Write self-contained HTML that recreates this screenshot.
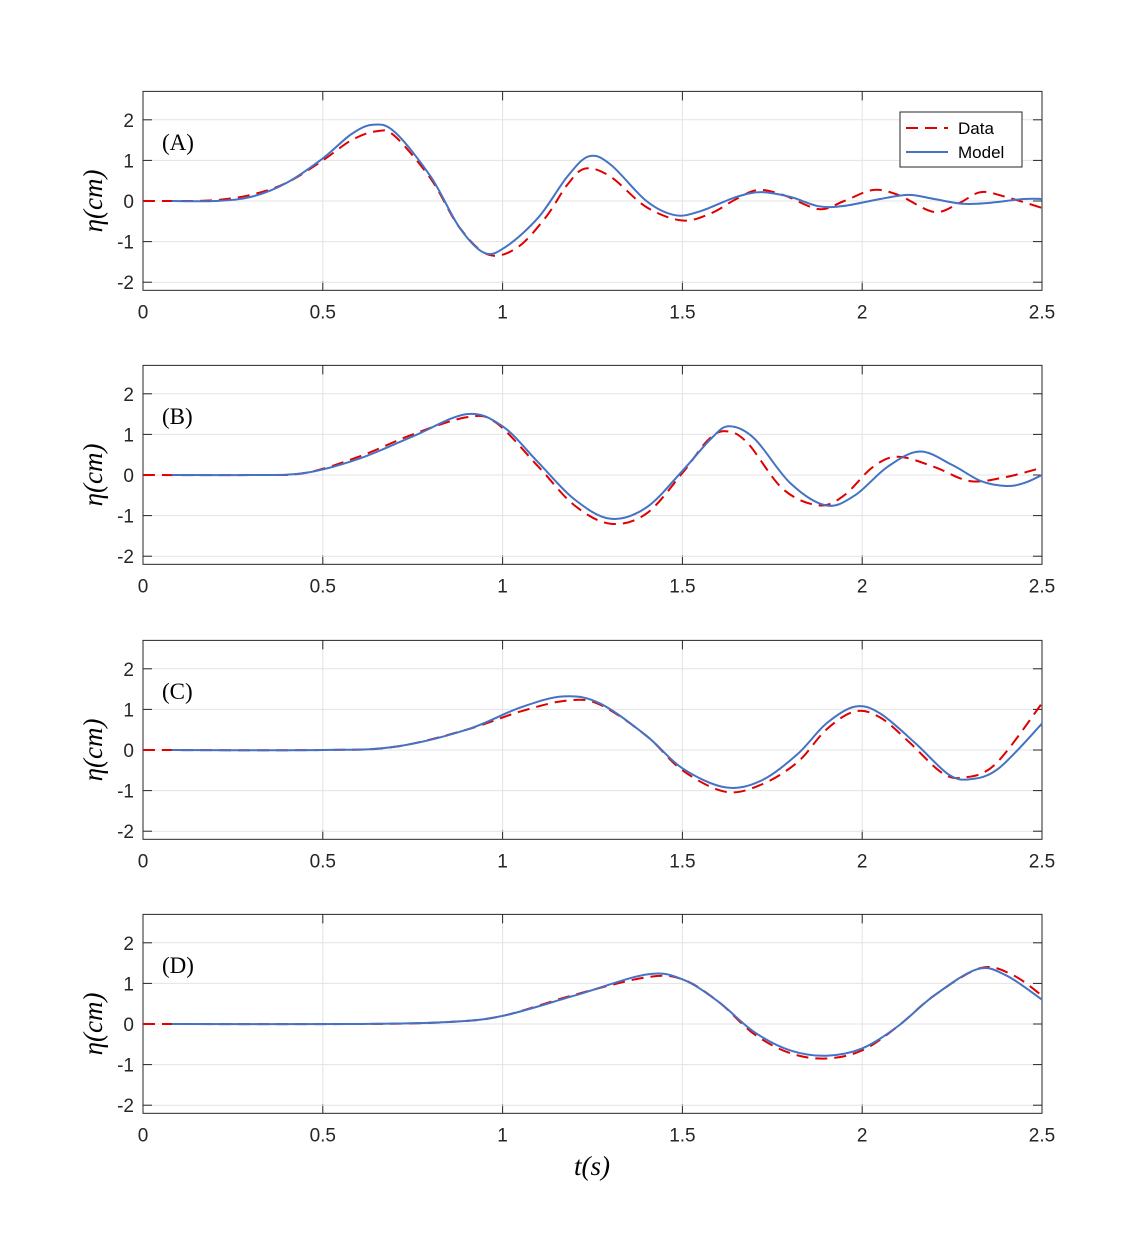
<!DOCTYPE html>
<html><head><meta charset="utf-8"><style>body{margin:0;background:#fff}svg{display:block}</style></head>
<body>
<svg id="s" width="1145" height="1250" xmlns="http://www.w3.org/2000/svg"></svg>
<script>
const S=document.getElementById('s');
const X0=143,X1=1042,PX=(X1-X0)/2.5,U=40.6;
const P=[
{lab:'(A)',z:201,
m:[[0.08,0],[0.2,0],[0.3,0.1],[0.4,0.45],[0.5,1.05],[0.58,1.65],[0.64,1.88],[0.7,1.7],[0.8,0.6],[0.88,-0.65],[0.95,-1.28],[1.01,-1.12],[1.1,-0.4],[1.18,0.6],[1.24,1.1],[1.3,0.9],[1.4,0],[1.48,-0.35],[1.55,-0.25],[1.65,0.1],[1.72,0.22],[1.8,0.1],[1.88,-0.13],[1.95,-0.12],[2.05,0.05],[2.13,0.15],[2.2,0.05],[2.28,-0.07],[2.35,-0.05],[2.45,0.05],[2.5,0.05]],
d:[[0,0],[0.1,0],[0.2,0.02],[0.3,0.15],[0.4,0.45],[0.5,1.0],[0.58,1.5],[0.65,1.72],[0.7,1.6],[0.8,0.55],[0.88,-0.65],[0.96,-1.32],[1.04,-1.15],[1.12,-0.4],[1.18,0.4],[1.23,0.8],[1.3,0.6],[1.4,-0.15],[1.5,-0.48],[1.58,-0.3],[1.65,0.05],[1.71,0.27],[1.78,0.15],[1.88,-0.2],[1.95,0],[2.03,0.27],[2.1,0.15],[2.2,-0.27],[2.27,-0.05],[2.33,0.22],[2.4,0.1],[2.5,-0.17]]},
{lab:'(B)',z:475,
m:[[0.08,0],[0.3,0],[0.45,0.05],[0.6,0.4],[0.75,0.95],[0.9,1.5],[1.0,1.2],[1.1,0.3],[1.2,-0.6],[1.3,-1.08],[1.4,-0.8],[1.5,0.1],[1.58,0.9],[1.63,1.2],[1.7,0.9],[1.8,-0.2],[1.9,-0.75],[1.98,-0.5],[2.07,0.2],[2.16,0.58],[2.25,0.25],[2.33,-0.15],[2.4,-0.27],[2.45,-0.2],[2.5,0]],
d:[[0,0],[0.3,0],[0.45,0.05],[0.6,0.45],[0.75,1.0],[0.9,1.42],[0.98,1.3],[1.1,0.2],[1.2,-0.75],[1.3,-1.2],[1.4,-0.95],[1.5,0.05],[1.57,0.85],[1.62,1.08],[1.68,0.8],[1.78,-0.35],[1.88,-0.75],[1.95,-0.5],[2.03,0.2],[2.1,0.45],[2.2,0.2],[2.3,-0.15],[2.4,-0.05],[2.5,0.18]]},
{lab:'(C)',z:750,
m:[[0.08,0],[0.5,0],[0.7,0.08],[0.9,0.5],[1.05,1.05],[1.17,1.32],[1.27,1.15],[1.4,0.35],[1.5,-0.45],[1.62,-0.92],[1.72,-0.75],[1.82,-0.1],[1.9,0.65],[1.98,1.07],[2.05,0.9],[2.15,0.15],[2.24,-0.6],[2.3,-0.72],[2.38,-0.45],[2.5,0.65]],
d:[[0,0],[0.5,0],[0.7,0.08],[0.9,0.5],[1.05,0.95],[1.18,1.22],[1.27,1.12],[1.4,0.35],[1.5,-0.5],[1.62,-1.03],[1.72,-0.85],[1.82,-0.3],[1.9,0.5],[1.98,0.95],[2.05,0.8],[2.13,0.2],[2.22,-0.55],[2.28,-0.68],[2.37,-0.35],[2.5,1.15]]},
{lab:'(D)',z:1024,
m:[[0.08,0],[0.6,0],[0.85,0.05],[1.0,0.2],[1.2,0.7],[1.4,1.22],[1.5,1.1],[1.6,0.55],[1.7,-0.2],[1.8,-0.65],[1.9,-0.78],[2.0,-0.6],[2.1,-0.05],[2.2,0.7],[2.32,1.35],[2.4,1.2],[2.5,0.6]],
d:[[0,0],[0.6,0],[0.85,0.05],[1.0,0.2],[1.2,0.72],[1.4,1.15],[1.5,1.1],[1.6,0.55],[1.7,-0.25],[1.8,-0.72],[1.9,-0.85],[2.0,-0.65],[2.1,-0.05],[2.2,0.7],[2.33,1.38],[2.42,1.2],[2.5,0.7]]}];
function path(pts,z){const q=pts.map(p=>[X0+p[0]*PX,z-p[1]*U]);let s='M'+q[0][0].toFixed(1)+','+q[0][1].toFixed(1);
for(let i=0;i<q.length-1;i++){const a=q[Math.max(i-1,0)],b=q[i],c=q[i+1],d=q[Math.min(i+2,q.length-1)];
s+=`C${(b[0]+(c[0]-a[0])/6).toFixed(1)},${(b[1]+(c[1]-a[1])/6).toFixed(1)} ${(c[0]-(d[0]-b[0])/6).toFixed(1)},${(c[1]-(d[1]-b[1])/6).toFixed(1)} ${c[0].toFixed(1)},${c[1].toFixed(1)}`;}return s;}
let h='';
P.forEach((p,k)=>{const z=p.z,top=z-2.7*U,bot=z+2.2*U;
for(let i=0;i<=5;i++){const x=X0+i*0.5*PX;h+=`<line x1="${x}" y1="${top}" x2="${x}" y2="${bot}" stroke="#e3e3e3"/>`;
h+=`<line x1="${x}" y1="${top}" x2="${x}" y2="${top+9}" stroke="#262626"/><line x1="${x}" y1="${bot}" x2="${x}" y2="${bot-9}" stroke="#262626"/>`;
h+=`<text x="${x}" y="${bot+28}" font-size="19" text-anchor="middle" font-family="Liberation Sans,sans-serif" fill="#262626">${['0','0.5','1','1.5','2','2.5'][i]}</text>`;}
for(let v=-2;v<=2;v++){const y=z-v*U;h+=`<line x1="${X0}" y1="${y}" x2="${X1}" y2="${y}" stroke="#e3e3e3"/>`;
h+=`<line x1="${X0}" y1="${y}" x2="${X0+9}" y2="${y}" stroke="#262626"/><line x1="${X1}" y1="${y}" x2="${X1-9}" y2="${y}" stroke="#262626"/>`;
h+=`<text x="${X0-9}" y="${y+7}" font-size="19" text-anchor="end" font-family="Liberation Sans,sans-serif" fill="#262626">${v}</text>`;}
h+=`<rect x="${X0}" y="${top}" width="${X1-X0}" height="${bot-top}" fill="none" stroke="#262626"/>`;
h+=`<path d="${path(p.d,z)}" fill="none" stroke="#e00000" stroke-width="2" stroke-dasharray="12,7"/>`;
h+=`<path d="${path(p.m,z)}" fill="none" stroke="#4472c4" stroke-width="2"/>`;
h+=`<text x="162" y="${z-51}" font-size="23" font-family="Liberation Serif,serif">${p.lab}</text>`;
h+=`<text transform="translate(102,${z}) rotate(-90)" font-size="27" text-anchor="middle" font-family="Liberation Serif,serif" font-style="italic">η(cm)</text>`;});
h+=`<rect x="900" y="112" width="122" height="55" fill="#fff" stroke="#262626"/>`;
h+=`<line x1="906" y1="128" x2="948" y2="128" stroke="#e00000" stroke-width="2" stroke-dasharray="12,7"/><text x="958" y="134" font-size="17" font-family="Liberation Sans,sans-serif">Data</text>`;
h+=`<line x1="906" y1="152" x2="948" y2="152" stroke="#4472c4" stroke-width="2"/><text x="958" y="158" font-size="17" font-family="Liberation Sans,sans-serif">Model</text>`;
h+=`<text x="592" y="1175" font-size="27" text-anchor="middle" font-family="Liberation Serif,serif" font-style="italic">t(s)</text>`;
S.innerHTML=h;
</script>
</body></html>
